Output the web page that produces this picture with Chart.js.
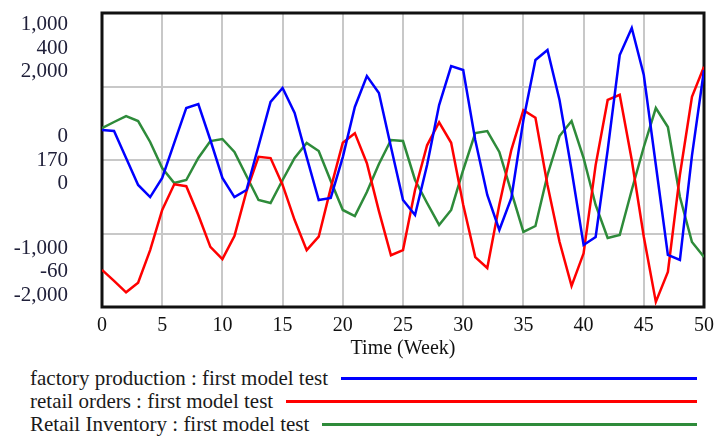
<!DOCTYPE html>
<html>
<head>
<meta charset="utf-8">
<script src="https://cdn.jsdelivr.net/npm/chart.js@4.4.1/dist/chart.umd.min.js"></script>
<style>
  html, body { margin: 0; padding: 0; background: #fff; }
  #wrap { position: relative; width: 721px; height: 438px; overflow: hidden; }
  #chartBox { position: absolute; left: 0; top: 0; width: 721px; height: 365px; }
  #legend {
    position: absolute; left: 30px; top: 367px; width: 667px;
    font-family: "Liberation Serif", "Times New Roman", serif; font-size: 21px; color: #1a1a1a;
  }
  .row { display: flex; align-items: center; height: 23px; white-space: nowrap; }
  .row .swatch { flex: 1; height: 3px; margin-left: 13px; }
</style>
</head>
<body>
<div id="wrap">
  <div id="chartBox"><canvas id="chart"></canvas></div>
  <div id="legend"></div>
</div>
<script>
// semanas (eixo x)
const weeks = [0,1,2,3,4,5,6,7,8,9,10,11,12,13,14,15,16,17,18,19,20,21,22,23,24,25,
  26,27,28,29,30,31,32,33,34,35,36,37,38,39,40,41,42,43,44,45,46,47,48,49,50];

// séries
const factoryProduction = [204,197,14,-170,-252,-122,116,354,381,136,-122,-252,-204,95,395,490,320,20,-272,-258,
  20,361,571,456,88,-272,-374,-34,374,639,612,136,-238,-476,-258,272,680,748,408,-68,
  -578,-524,68,714,898,578,-34,-646,-680,30,612];
const retailOrders = [-2,-19,-37,-22,29,92,132,129,84,34,15,51,121,175,173,131,76,29,50,126,
  197,212,165,90,21,29,123,193,229,197,100,18,1,100,186,248,236,131,42,-27,
  24,162,264,272,170,50,-52,-5,147,269,316];
const retailInventory = [435,517,598,530,245,-109,-313,-272,27,258,286,109,-218,-544,-585,-272,27,231,122,-286,
  -680,-762,-435,-54,272,258,-272,-585,-884,-680,-136,367,394,109,-435,-979,-898,-204,326,530,
  27,-612,-1061,-1020,-408,177,707,449,-503,-1115,-1319];

const seriesNames = [
  'factory production : first model test',
  'retail orders : first model test',
  'Retail Inventory : first model test'
];
const seriesColors = ['#0000ff', '#ff0000', '#2e8b3a'];

// uma escala por variável (estilo Vensim)
const axisMin = [-1000, -60, -2000];
const axisMax = [1000, 400, 2000];
// rótulos empilhados: topo, meio, base
const yTickLabels = [
  ['1,000', '400', '2,000'],
  ['0', '170', '0'],
  ['-1,000', '-60', '-2,000']
];

const serif = '"Liberation Serif", "Times New Roman", serif';

// rótulos do eixo y empilhados, presos dentro da área do gráfico
const stackedLabels = {
  id: 'stackedLabels',
  afterDraw(chart) {
    const {ctx, chartArea: area} = chart;
    const s = chart.scales.y;
    const lh = 23.5;
    const positions = [s.getPixelForValue(axisMax[0]), s.getPixelForValue((axisMax[0] + axisMin[0]) / 2), s.getPixelForValue(axisMin[0])];
    ctx.save();
    ctx.font = '21px ' + serif;
    ctx.fillStyle = '#20203a';
    ctx.textAlign = 'right';
    ctx.textBaseline = 'middle';
    positions.forEach((p, i) => {
      const c = Math.min(Math.max(p, area.top + lh * 1.5), area.bottom - lh * 1.5);
      yTickLabels[i].forEach((txt, j) => {
        ctx.fillText(txt, area.left - 34, c + (j - 1) * lh);
      });
    });
    ctx.restore();
  }
};

// moldura preta da área de plotagem
const frame = {
  id: 'frame',
  beforeDatasetsDraw(chart) {
    const {ctx, chartArea: a} = chart;
    ctx.save();
    ctx.strokeStyle = '#111';
    ctx.lineWidth = 3;
    ctx.strokeRect(a.left, a.top, a.right - a.left, a.bottom - a.top);
    ctx.restore();
  }
};

const allSeries = [factoryProduction, retailOrders, retailInventory];
const axisIds = ['y', 'y1', 'y2'];

new Chart(document.getElementById('chart'), {
  type: 'line',
  data: {
    datasets: allSeries.map((vals, i) => ({
      label: seriesNames[i],
      data: vals.map((v, k) => ({x: weeks[k], y: v})),
      borderColor: seriesColors[i],
      borderWidth: 2.5,
      pointRadius: 0,
      tension: 0,
      fill: false,
      yAxisID: axisIds[i]
    }))
  },
  options: {
    responsive: true,
    maintainAspectRatio: false,
    animation: false,
    layout: { padding: { left: 0, right: 9, top: 13, bottom: 0 } },
    plugins: { legend: { display: false }, tooltip: { enabled: false } },
    scales: {
      x: {
        type: 'linear',
        min: 0, max: 50,
        grid: { color: '#c8c8c8', lineWidth: 2, drawTicks: false },
        border: { display: false },
        ticks: { stepSize: 5, autoSkip: false, maxRotation: 0, padding: 7, color: '#111', font: { family: serif, size: 20 } },
        title: { display: true, text: 'Time (Week)', color: '#111', font: { family: serif, size: 20 }, padding: { top: 0, bottom: 4 } },
        afterFit(scale) { scale.height = 58; }
      },
      y: {
        min: axisMin[0], max: axisMax[0],
        grid: { color: '#c8c8c8', lineWidth: 2, drawTicks: false },
        border: { display: false },
        ticks: { stepSize: 500, display: false },
        afterFit(scale) { scale.width = 102; }
      },
      y1: { display: false, min: axisMin[1], max: axisMax[1] },
      y2: { display: false, min: axisMin[2], max: axisMax[2] }
    }
  },
  plugins: [frame, stackedLabels]
});

// legenda no estilo Vensim: texto seguido de uma linha longa
const legend = document.getElementById('legend');
seriesNames.forEach((name, i) => {
  const row = document.createElement('div');
  row.className = 'row';
  row.innerHTML = `<span>${name}</span><span class="swatch" style="background:${seriesColors[i]}"></span>`;
  legend.appendChild(row);
});
</script>
</body>
</html>
